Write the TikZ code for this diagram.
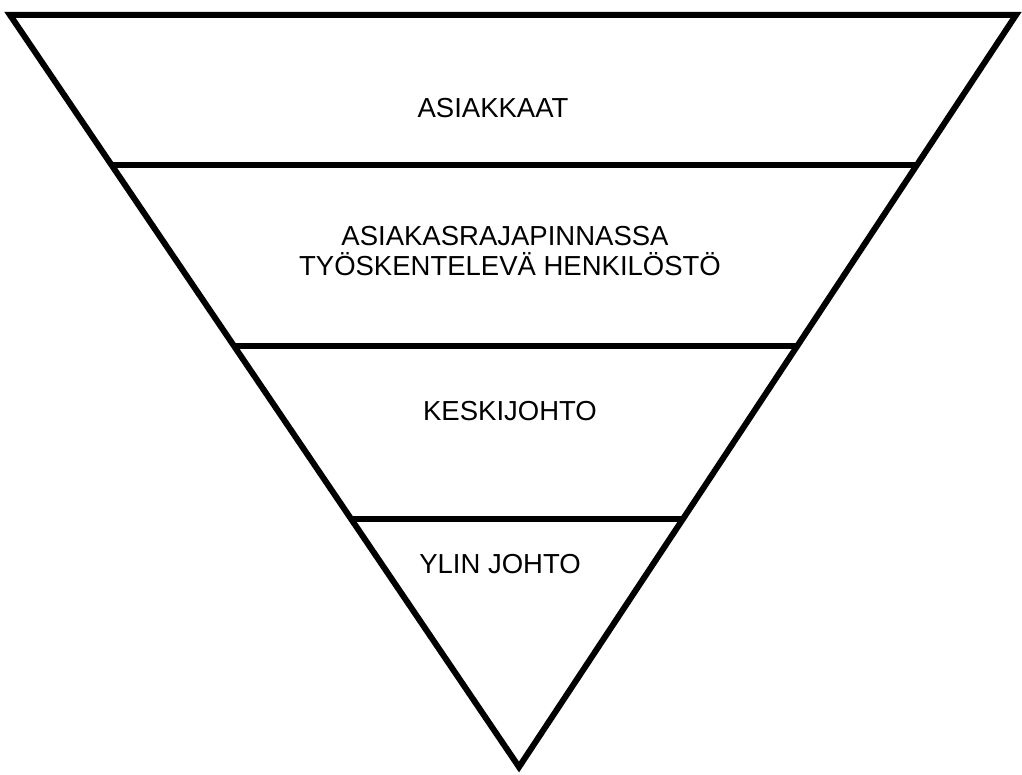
\documentclass[tikz,border=0pt]{standalone}
\usepackage{fontspec}
\setmainfont{Liberation Sans}
\usetikzlibrary{calc}
\begin{document}
\begin{tikzpicture}[x=1pt,y=-1pt,
  edge/.style={line width=6pt,black},
  label/.style={font=\fontsize{27.5}{29}\selectfont,inner sep=0pt,align=center}]
\useasboundingbox (0,0) rectangle (1022,775);
\coordinate (L) at (10,15);
\coordinate (R) at (1016,15);
\coordinate (B) at (519,767);
\draw[edge,line join=miter] (L) -- (R) -- (B) -- cycle;
\coordinate (l1) at ($(L)!0.1995!(B)$);
\coordinate (r1) at ($(R)!0.1995!(B)$);
\coordinate (l2) at ($(L)!0.4395!(B)$);
\coordinate (r2) at ($(R)!0.4395!(B)$);
\coordinate (l3) at ($(L)!0.6702!(B)$);
\coordinate (r3) at ($(R)!0.6702!(B)$);
\draw[edge] (l1) -- (r1);
\draw[edge] (l2) -- (r2);
\draw[edge] (l3) -- (r3);
\node[label] (asiakkaat) at (493,108) {ASIAKKAAT};
\node[label] (henk1) at (505,236) {ASIAKASRAJAPINNASSA};
\node[label] (henk2) at (510,264) {TYÖSKENTELEVÄ HENKILÖSTÖ};
\node[label] (keski) at (510,411) {KESKIJOHTO};
\node[label] (ylin) at (500,564) {YLIN JOHTO};
\end{tikzpicture}
\end{document}
